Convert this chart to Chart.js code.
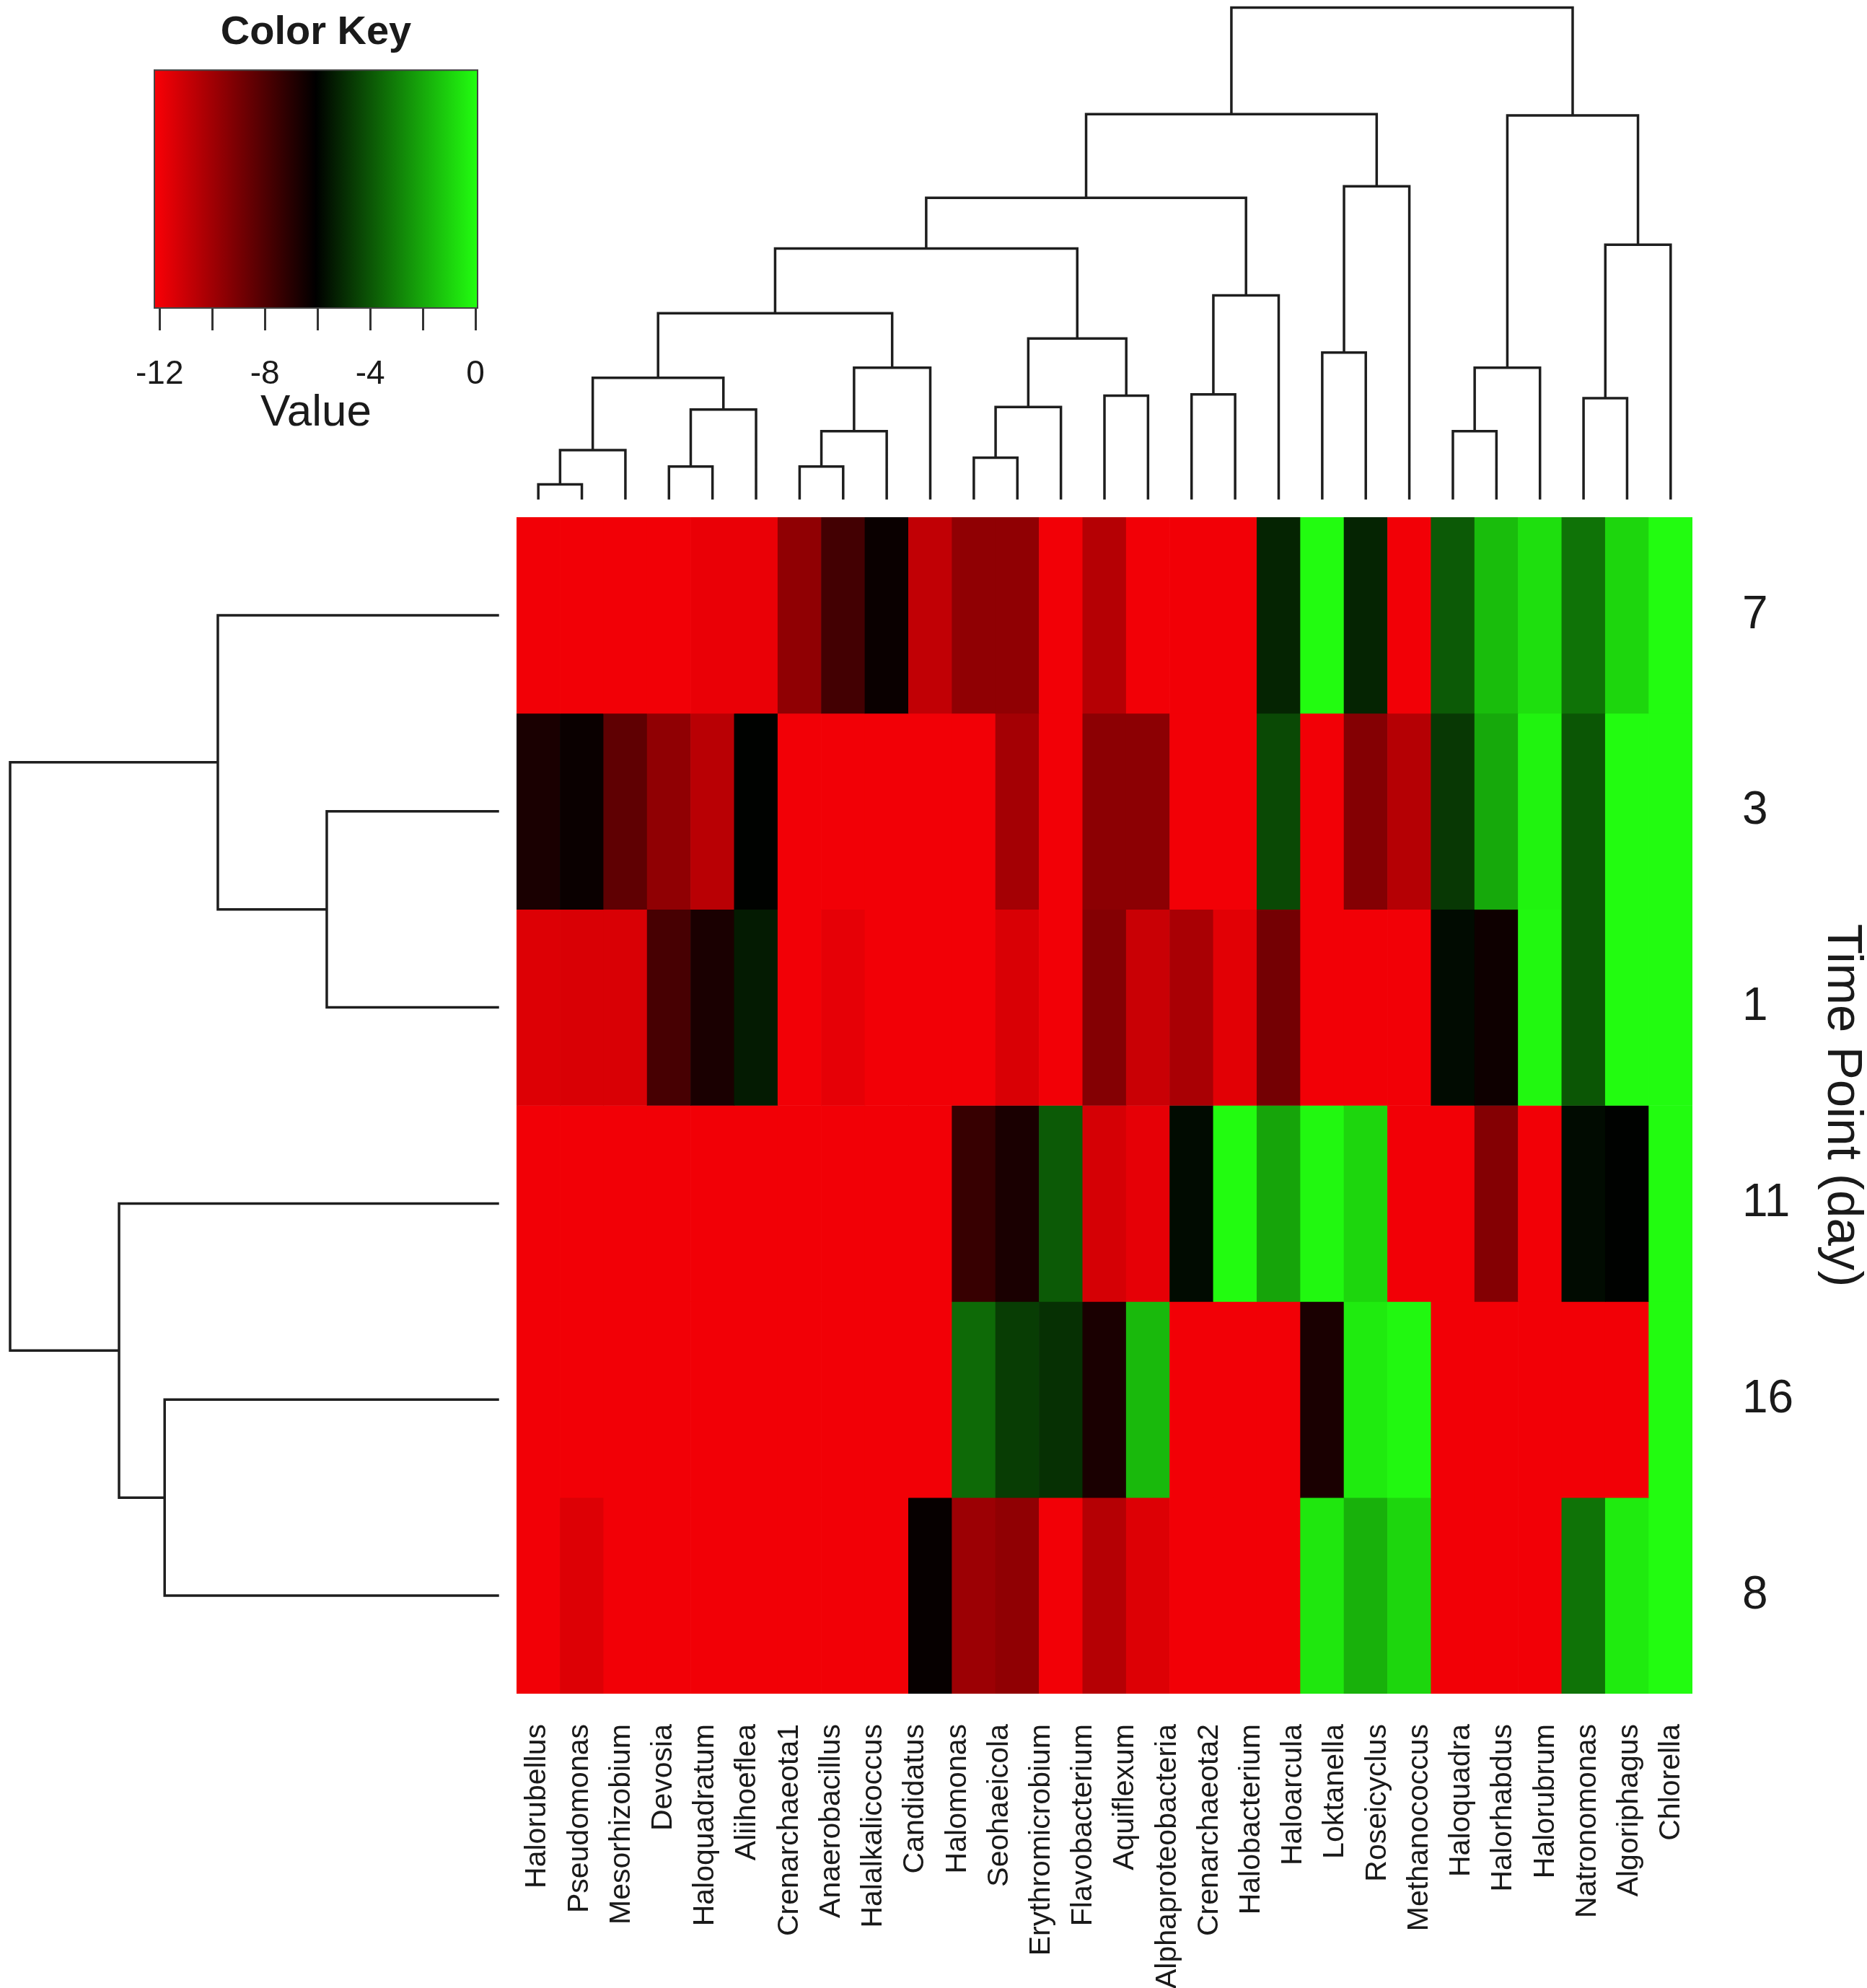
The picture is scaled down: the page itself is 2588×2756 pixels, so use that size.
<!DOCTYPE html>
<html>
<head>
<meta charset="utf-8">
<script src="https://cdn.jsdelivr.net/npm/chart.js@4.4.1/dist/chart.umd.min.js"></script>
<style>
html,body{margin:0;padding:0;background:#fff;overflow:hidden}
#wrap{position:relative;width:2588px;height:2756px;background:#fff}
#wrap canvas{position:absolute;left:0;top:0}
</style>
</head>
<body>
<div id="wrap">
<canvas id="heat" width="2588" height="2756"></canvas>
<canvas id="colDendro" width="2588" height="2756"></canvas>
<canvas id="rowDendro" width="2588" height="2756"></canvas>
<canvas id="key" width="2588" height="2756"></canvas>
</div>
<script>
// ---------- data ----------
const taxa = ['Halorubellus','Pseudomonas','Mesorhizobium','Devosia','Haloquadratum','Aliihoeflea',
  'Crenarchaeota1','Anaerobacillus','Halalkalicoccus','Candidatus','Halomonas','Seohaeicola',
  'Erythromicrobium','Flavobacterium','Aquiflexum','Alphaproteobacteria','Crenarchaeota2',
  'Halobacterium','Haloarcula','Loktanella','Roseicyclus','Methanococcus','Haloquadra',
  'Halorhabdus','Halorubrum','Natronomonas','Algoriphagus','Chlorella'];
const timePoints = ['7','3','1','11','16','8'];

const day7  = [-12,-12,-12,-12,-11.8,-11.8,-9.6,-7.7,-6.3,-10.8,-9.6,-9.6,-12,-10.5,-12,-12,-12,-5.2,0,-5.2,-12,-3.9,-1.5,-0.7,-3.3,-0.9,0];
const day3  = [-6.7,-6.3,-8.4,-9.6,-10.6,-6.0,-12,-12,-12,-12,-12,-10.1,-12,-9.5,-9.5,-12,-12,-4.3,-12,-9.3,-10.5,-4.7,-2.0,-0.2,-4.0,0,0];
const day1  = [-11.5,-11.4,-11.4,-7.8,-6.7,-5.4,-12,-11.7,-12,-12,-12,-11.4,-12,-9.3,-11.0,-10.2,-11.6,-8.9,-12,-12,-12,-5.8,-6.4,-0.1,-4.0,0,0];
const day11 = [-12,-12,-12,-12,-12,-12,-12,-12,-12,-12,-7.4,-6.7,-3.9,-11.3,-11.7,-5.8,0,-2.1,-0.1,-0.9,-12,-12,-9.3,-12,-5.8,-6.0,0];
const day16 = [-12,-12,-12,-12,-12,-12,-12,-12,-12,-12,-3.5,-4.6,-4.9,-6.7,-1.6,-12,-12,-12,-6.7,-0.4,-0.1,-12,-12,-12,-12,-12,0];
const day8  = [-12,-11.5,-12,-12,-12,-12,-12,-12,-12,-6.2,-9.9,-9.6,-12,-10.5,-11.5,-12,-12,-12,-0.5,-1.8,-0.9,-12,-12,-12,-3.3,-0.4,0];
const heatRows = [day7, day3, day1, day11, day16, day8];

// column dendrogram (hclust-style merges, leaves in display order)
const colMerge = [[-1,-2],[-7,-8],[-4,-5],[-11,-12],[1,-3],[2,-9],[-22,-23],[3,-6],[4,-13],[-25,-26],
  [-14,-15],[-16,-17],[5,8],[6,-10],[7,-24],[-19,-20],[9,11],[13,14],[12,-18],[18,17],[10,-27],
  [20,19],[16,-21],[15,21],[22,23],[25,24]];
const colHeight = [11,25,25,32,38,53,53,70,72,79,81,82,95,103,103,115,126,146,160,197,200,237,246,302,303,387];

// row dendrogram
const rowMerge = [[-2,-3],[-1,1],[-5,-6],[-4,3],[2,4]];
const rowHeight = [135,221,263,299,385];

// color key
const keyMin = -12.2, keyMax = 0.08;
const keyTicks = [-12,-10,-8,-6,-4,-2,0];
const keyLabels = ['-12','-8','-4','0'];

// ---------- helpers ----------
const TXT = '#1a1a1a';
Chart.defaults.font.family = "'Liberation Sans', Arial, Helvetica, sans-serif";
Chart.defaults.color = TXT;

function valueColor(v) {
  let t = (v - keyMin) / (keyMax - keyMin);
  t = Math.max(0, Math.min(1, t));
  if (t < 0.5) {
    const k = 1 - 2 * t;
    return `rgb(${Math.round(250 * k)},0,${Math.round(6 * k)})`;
  }
  const k = 2 * t - 1;
  return `rgb(${Math.round(34 * k)},${Math.round(255 * k)},${Math.round(16 * k)})`;
}

function dendroPoints(merge, height, horizontal) {
  const pos = [], hts = [], pts = [];
  merge.forEach((m, k) => {
    const ch = m.map(c => c < 0 ? {p: -c - 1 + 0.5, h: 0} : {p: pos[c - 1], h: hts[c - 1]});
    const H = height[k];
    [[ch[0].p, ch[0].h], [ch[0].p, H], [ch[1].p, H], [ch[1].p, ch[1].h]].forEach(([p, h]) =>
      pts.push(horizontal ? {x: h, y: p} : {x: p, y: h}));
    pts.push({x: null, y: null});
    pos.push((ch[0].p + ch[1].p) / 2);
    hts.push(H);
  });
  return pts;
}

const baseOpts = {
  responsive: false, animation: false, events: [],
  plugins: {legend: {display: false}, tooltip: {enabled: false}}
};
const W = 2588, Hc = 2756;
const heatL = 716, heatR = 2346, heatT = 717, heatB = 2348;

// ---------- heatmap ----------
const columnIds = day7.map((_, i) => String(i + 1));
new Chart(document.getElementById('heat'), {
  type: 'bar',
  data: {
    labels: columnIds,
    datasets: heatRows.map((row, r) => ({
      label: timePoints[r],
      data: row.map(() => [r, r + 1]),
      backgroundColor: row.map(valueColor),
      borderWidth: 0,
      barPercentage: 1,
      categoryPercentage: 1,
      grouped: false,
      xAxisID: 'x',
      yAxisID: 'y'
    }))
  },
  options: {
    ...baseOpts,
    layout: {padding: {left: heatL, top: heatT, right: 0, bottom: 0}},
    scales: {
      x: {type: 'category', display: false, offset: true},
      y: {type: 'linear', display: false, min: 0, max: 6, reverse: true},
      xLab: {
        type: 'category', labels: taxa, position: 'bottom', offset: true,
        grid: {display: false, drawTicks: false}, border: {display: false},
        ticks: {autoSkip: false, maxRotation: 90, minRotation: 90, padding: 42, font: {size: 41}, color: TXT},
        afterFit: s => { s.height = Hc - heatB; }
      },
      yLab: {
        type: 'category', labels: timePoints, position: 'right', offset: true,
        grid: {display: false, drawTicks: false}, border: {display: false},
        ticks: {padding: 69, font: {size: 64}, color: TXT},
        title: {display: true, text: 'Time Point (day)', font: {size: 69, lineHeight: 1}, padding: {top: 0, bottom: 0}, color: TXT},
        afterFit: s => { s.width = W - heatR; }
      }
    }
  }
});

// ---------- column dendrogram ----------
const lineDs = pts => ({
  data: pts, showLine: true, pointRadius: 0, borderColor: '#1e1e1e', borderWidth: 3.5,
  spanGaps: false, clip: false, tension: 0, borderCapStyle: 'square', borderJoinStyle: 'miter'
});
new Chart(document.getElementById('colDendro'), {
  type: 'scatter',
  data: {datasets: [lineDs(dendroPoints(colMerge, colHeight, false))]},
  options: {
    ...baseOpts,
    layout: {padding: {left: heatL, right: W - heatR, top: 10.5, bottom: Hc - 690.8}},
    scales: {
      x: {type: 'linear', display: false, min: 0, max: day7.length},
      y: {type: 'linear', display: false, min: 0, max: colHeight[colHeight.length - 1]}
    }
  }
});

// ---------- row dendrogram ----------
new Chart(document.getElementById('rowDendro'), {
  type: 'scatter',
  data: {datasets: [lineDs(dendroPoints(rowMerge, rowHeight, true))]},
  options: {
    ...baseOpts,
    layout: {padding: {left: 14, right: W - 690, top: heatT, bottom: Hc - heatB}},
    scales: {
      x: {type: 'linear', display: false, min: 0, max: rowHeight[rowHeight.length - 1], reverse: true},
      y: {type: 'linear', display: false, min: 0, max: timePoints.length, reverse: true}
    }
  }
});

// ---------- color key ----------
const keyGradient = {
  id: 'keyGradient',
  beforeDatasetsDraw(chart) {
    const {ctx, chartArea: a, scales: {x}} = chart;
    const x0 = x.getPixelForValue(keyMin), x1 = x.getPixelForValue(keyMax);
    const g = ctx.createLinearGradient(x0, 0, x1, 0);
    g.addColorStop(0, valueColor(keyMin));
    g.addColorStop(0.5, valueColor((keyMin + keyMax) / 2));
    g.addColorStop(1, valueColor(keyMax));
    ctx.save();
    ctx.fillStyle = g;
    ctx.fillRect(x0, a.top, x1 - x0, a.bottom - a.top);
    ctx.strokeStyle = '#444';
    ctx.lineWidth = 2;
    ctx.strokeRect(x0, a.top, x1 - x0, a.bottom - a.top);
    ctx.restore();
  }
};
const keyL = 214, keyR = 662, keyB = 427, keyAxisH = 183;
new Chart(document.getElementById('key'), {
  type: 'scatter',
  data: {datasets: []},
  options: {
    ...baseOpts,
    layout: {padding: {left: keyL, right: W - keyR, top: 0, bottom: Hc - keyB - keyAxisH}},
    plugins: {
      ...baseOpts.plugins,
      title: {display: true, text: 'Color Key', font: {size: 56, weight: 'bold'}, color: TXT, padding: {top: 12, bottom: 18}}
    },
    scales: {
      x: {
        type: 'linear', position: 'bottom', min: keyMin, max: keyMax,
        afterBuildTicks: s => { s.ticks = keyTicks.map(v => ({value: v})); },
        ticks: {autoSkip: false, includeBounds: false, padding: 34, font: {size: 46}, color: TXT,
          callback: v => keyLabels.includes(String(v)) ? String(v) : ''},
        grid: {display: true, drawOnChartArea: false, drawTicks: true, tickLength: 31, tickWidth: 3, tickColor: '#333'},
        border: {display: false},
        title: {display: true, text: 'Value', font: {size: 62}, padding: {top: 0, bottom: 0}, color: TXT},
        afterFit: s => { s.height = keyAxisH; }
      },
      y: {type: 'linear', display: false, min: 0, max: 1}
    }
  },
  plugins: [keyGradient]
});
</script>
</body>
</html>
